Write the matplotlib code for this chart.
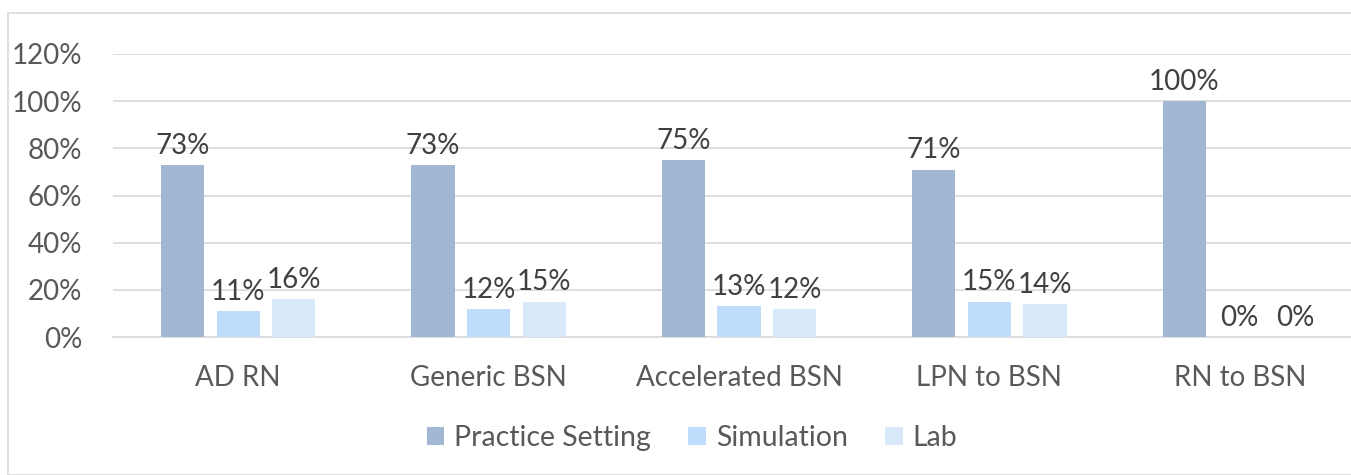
import matplotlib.pyplot as plt
from matplotlib.patches import Rectangle
import numpy as np

programs = ['AD RN', 'Generic BSN', 'Accelerated BSN', 'LPN to BSN', 'RN to BSN']
practice = [73, 73, 75, 71, 100]
simulation = [11, 12, 13, 15, 0]
lab = [16, 15, 12, 14, 0]
series_names = ['Practice Setting', 'Simulation', 'Lab']
colors = ['#A2B7D2', '#BFDDFA', '#DAE9F9']

plt.rcParams['font.family'] = ['Lato', 'DejaVu Sans']

W, H = 1351, 475
fig = plt.figure(figsize=(W / 100, H / 100), dpi=100)
# chart area border (cut off at right and bottom in the original)
fig.patches.append(Rectangle((7.5 / W, 0), 1.2, 1 - 12.5 / H, transform=fig.transFigure,
                             fill=False, edgecolor='#D9D9D9', linewidth=1.2))

left, right = 113, 1365
top, bottom = 54, 337
ax = fig.add_axes([left / W, 1 - bottom / H, (right - left) / W, (bottom - top) / H])

x = np.arange(len(programs))
width = 0.173
step = 0.222
for i, (vals, name, col) in enumerate(zip([practice, simulation, lab], series_names, colors)):
    bars = ax.bar(x + (i - 1) * step, vals, width, color=col, label=name, zorder=3)
    for b, v in zip(bars, vals):
        ax.text(b.get_x() + b.get_width() / 2, v + 2.6, f'{v}%', ha='center', va='bottom',
                fontsize=20, color='#404040', zorder=4)

ax.set_xlim(-0.5, len(programs) - 0.5)
ax.set_ylim(0, 120)
ax.set_yticks(range(0, 121, 20))
ax.set_yticklabels([f'{t}%' for t in range(0, 121, 20)])
ax.set_xticks(x)
ax.set_xticklabels(programs)
ax.yaxis.grid(True, color='#D9D9D9', linewidth=1.2, zorder=0)
ax.set_axisbelow(True)
for s in ['top', 'right', 'left']:
    ax.spines[s].set_visible(False)
ax.spines['bottom'].set_color('#D9D9D9')
ax.spines['bottom'].set_linewidth(1.2)
ax.tick_params(axis='both', length=0, labelsize=20, colors='#595959')
ax.tick_params(axis='y', pad=22)
ax.tick_params(axis='x', pad=20)

handles, labels = ax.get_legend_handles_labels()
fig.legend(handles, labels, loc='center', bbox_to_anchor=(692 / W, 1 - 438 / H), ncol=3,
           frameon=False, fontsize=20.5, labelcolor='#595959', handlelength=0.62, handleheight=0.62,
           handletextpad=0.35, columnspacing=1.3)

fig.savefig('out.png', dpi=100)
